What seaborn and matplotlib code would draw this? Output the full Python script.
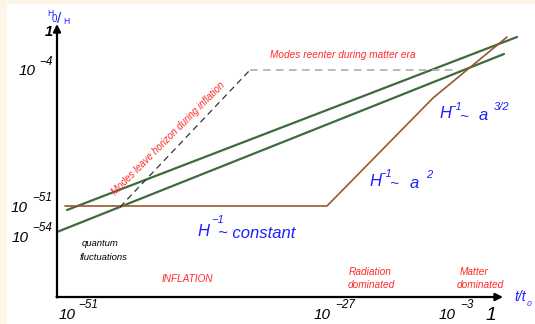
import matplotlib
matplotlib.use("Agg")
import matplotlib.pyplot as plt
import seaborn as sns
import pandas as pd

sns.set_theme(style="white")
plt.rcParams['font.family'] = ['Liberation Sans', 'DejaVu Sans']

# Schematic data (diagram units, origin at the axis corner)
green_upper_x = [10, 460]
green_upper_y = [87, 260]
green_lower_x = [0, 447]
green_lower_y = [65, 243]
hubble_x = [8, 270, 376, 450]
hubble_y = [91, 91, 199, 260]
leave_x = [63, 193]
leave_y = [90, 227]
reenter_x = [193, 400]
reenter_y = [227, 227]

M = "\u2212"
x_tick_labels = [M + "51", M + "27", M + "3"]
y_tick_labels = [M + "4", M + "51", M + "54"]

GREEN = "#3d6b3d"
BROWN = "#9a5530"
BLUE = "#1f1fff"
RED = "#ff2a2a"

W, H = 535, 324
fig = plt.figure(figsize=(W / 100, H / 100), dpi=100)
fig.patch.set_facecolor("#fdf5e6")
ax = fig.add_axes([7 / W, 0, (W - 7) / W, (H - 4) / H])
ax.set_facecolor("white")
ax.set_xlim(7 - 57, W - 57)
ax.set_ylim(297 - H, 297 - 4)


def d(px, py):
    return px - 57, 297 - py


def draw(xs, ys, **kw):
    df = pd.DataFrame({"x": xs, "y": ys})
    sns.lineplot(data=df, x="x", y="y", sort=False, estimator=None, ax=ax, **kw)


draw(green_upper_x, green_upper_y, color=GREEN, lw=1.6)
draw(green_lower_x, green_lower_y, color=GREEN, lw=1.6)
draw(hubble_x, hubble_y, color=BROWN, lw=1.2)
draw(leave_x, leave_y, color="#333333", lw=0.9, linestyle=(0, (5, 3.5)))
draw(reenter_x, reenter_y, color="#a8a8a8", lw=1.1, linestyle=(0, (5, 3.5)))

ax.set_xlabel("")
ax.set_ylabel("")
ax.set_xticks([])
ax.set_yticks([])
for s in ax.spines.values():
    s.set_visible(False)

# axes arrows
ax.annotate("", xy=d(57, 24), xytext=d(57, 297.5),
            arrowprops=dict(arrowstyle="-|>", color="black", lw=1.6,
                            mutation_scale=11, shrinkA=0, shrinkB=0))
ax.annotate("", xy=d(503, 297), xytext=d(56.5, 297),
            arrowprops=dict(arrowstyle="-|>", color="black", lw=1.6,
                            mutation_scale=11, shrinkA=0, shrinkB=0))


def t(px, py, s, size, color="black", ha="left", va="center", style="italic", **kw):
    x, y = d(px, py)
    ax.text(x, y, s, fontsize=size, color=color, ha=ha, va=va, style=style, **kw)


# y axis label H0/H
t(47, 13, "H", 6.2, BLUE, style="normal")
t(51.5, 19.5, "0", 7, BLUE, style="normal")
t(57, 19, "/", 11, BLUE, style="normal")
t(63.5, 22, "H", 6.2, BLUE, style="normal")

# y ticks
t(53, 32, "1", 10.5, ha="right", weight="bold")
t(19, 71, "10", 11)
t(39, 62, y_tick_labels[0], 8.5)
t(11, 208.5, "10", 11)
t(32, 198, y_tick_labels[1], 8.5)
t(12, 238, "10", 11)
t(32, 228, y_tick_labels[2], 8.5)

# x ticks
t(59, 315, "10", 11)
t(78, 305, x_tick_labels[0], 8.5)
t(314, 315, "10", 11)
t(335, 305, x_tick_labels[1], 8.5)
t(439, 315, "10", 11)
t(460, 305, x_tick_labels[2], 8.5)
t(486, 316, "1", 14)

# x axis label
t(514, 297, "t/t", 10, BLUE)
t(527, 304, "0", 6, BLUE)

# blue annotations
t(197, 231, "H", 12, BLUE)
t(211, 220, M + "1", 8, BLUE)
t(218, 233, "~ constant", 12, BLUE)

t(369, 181, "H", 12, BLUE)
t(379, 174, M + "1", 8, BLUE)
t(389, 184, "~", 11, BLUE)
t(410, 183, "a", 12, BLUE)
t(426, 175, "2", 8, BLUE)

t(439, 114, "H", 12, BLUE)
t(449, 107, M + "1", 8, BLUE)
t(459, 117, "~", 11, BLUE)
t(479, 116, "a", 12, BLUE)
t(494, 107, "3/2", 8, BLUE)

# red annotations
t(270, 55, "Modes reenter during matter era", 7.3, RED)
x0, y0 = d(168, 139)
ax.text(x0, y0, "Modes leave horizon during inflation", fontsize=7, color=RED,
        rotation=45, rotation_mode="anchor", ha="center", va="center", style="italic")
t(162, 279, "INFLATION", 7.2, RED)
t(370, 272, "Radiation", 7.3, RED, ha="center")
t(371, 285, "dominated", 7.3, RED, ha="center")
t(474, 272, "Matter", 7.3, RED, ha="center")
t(480, 285, "dominated", 7.3, RED, ha="center")

# black annotation
t(100, 243, "quantum", 6.8, ha="center")
t(104, 257, "fluctuations", 6.8, ha="center")

fig.savefig("out.png", dpi=100, facecolor=fig.get_facecolor())
